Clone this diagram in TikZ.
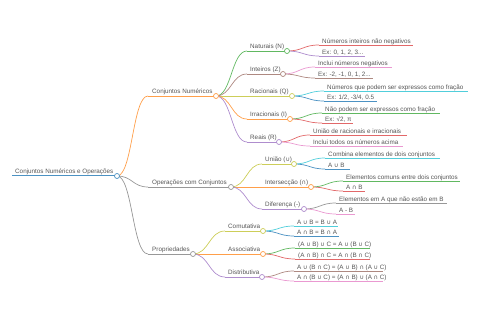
\documentclass[tikz,border=0pt]{standalone}
\usepackage{fontspec}
\setmainfont{Liberation Sans}
\newfontfamily\symf{DejaVu Sans}
\usetikzlibrary{calc}
\definecolor{cblueB}{HTML}{1F77B4}
\definecolor{corangeB}{HTML}{FF7F0E}
\definecolor{cgreenB}{HTML}{2CA02C}
\definecolor{credB}{HTML}{D62728}
\definecolor{cpurpleB}{HTML}{9467BD}
\definecolor{cbrownB}{HTML}{8C564B}
\definecolor{cpinkB}{HTML}{E377C2}
\definecolor{cgrayB}{HTML}{7F7F7F}
\definecolor{coliveB}{HTML}{BCBD22}
\definecolor{ccyanB}{HTML}{17BECF}
\colorlet{cblue}{cblueB!80!white}
\colorlet{corange}{corangeB!75!white}
\colorlet{cgreen}{cgreenB!75!white}
\colorlet{cred}{credB!70!white}
\colorlet{cpurple}{cpurpleB!75!white}
\colorlet{cbrown}{cbrownB!70!white}
\colorlet{cpink}{cpinkB!75!white}
\colorlet{cgray}{cgrayB!80!white}
\colorlet{colive}{coliveB!75!white}
\colorlet{ccyan}{ccyanB!75!white}
\definecolor{txt}{HTML}{555555}
\newcommand\mmcup{{\symf\fontsize{6}{7}\selectfont ∪}}
\newcommand\mmcap{{\symf\fontsize{6}{7}\selectfont ∩}}
\tikzset{
  lbl/.style={anchor=base west, inner sep=0pt, font=\fontsize{6.3}{7}\selectfont, text=txt},
  link/.style={line width=0.7pt},
  dot/.style={circle, draw, fill=white, line width=0.7pt, minimum size=5pt, inner sep=0pt},
}
% link from parent circle to child line start
\newcommand\mmlink[3]{\draw[link,#3] let \p1=(#1), \p2=(#2) in (\p1) .. controls ({0.5*\x1+0.5*\x2},\y1) and ({0.5*\x1+0.5*\x2},\y2) .. (\p2);}
% inner node: name, startx, textx, circlex, y, color, text
\newcommand\mmnode[7]{%
  \coordinate (#1S) at (#2,#5);
  \coordinate (#1) at (#4,#5);
  \node[lbl] (#1T) at (#3,#5-2) {#7};
  \draw[link,#6] (#1S) -- (#1);}
% leaf: name, textx, y, endx, color, text
\newcommand\mmleaf[6]{%
  \coordinate (#1) at (#2-3,#3);
  \coordinate (#1E) at (#4,#3);
  \node[lbl] (#1T) at (#2,#3-1.8) {#6};
  \draw[link,#5] (#1) -- (#1E);}
\begin{document}
\begin{tikzpicture}[x=1pt,y=-1pt]
\useasboundingbox (0,0) rectangle (480,320);
% root
\coordinate (rootS) at (12,176);
\coordinate (root) at (117,176);
\node[lbl] (rootT) at (15,174) {Conjuntos Numéricos e Operações};
\draw[link,cblue,line width=1pt] (rootS) -- (root);
% level 1
\mmnode{cn}{148}{152}{216}{96}{corange}{Conjuntos Numéricos}
\mmnode{op}{148}{152}{231}{187}{cgray}{Operações com Conjuntos}
\mmnode{pr}{148}{152}{193}{254}{cgray}{Propriedades}
\mmlink{root}{cnS}{corange}
\mmlink{root}{opS}{cgray}
\mmlink{root}{prS}{cgray}
% level 2: numeric sets
\mmnode{nat}{247}{250}{287}{51}{cgreen}{Naturais (N)}
\mmnode{int}{247}{250}{283}{74}{cbrown}{Inteiros (Z)}
\mmnode{rac}{247}{250}{292}{96}{colive}{Racionais (Q)}
\mmnode{irr}{247}{250}{290}{119}{corange}{Irracionais (I)}
\mmnode{rea}{247}{250}{279}{142}{cpurple}{Reais (R)}
\mmlink{cn}{natS}{cgreen}
\mmlink{cn}{intS}{cbrown}
\mmlink{cn}{racS}{colive}
\mmlink{cn}{irrS}{corange}
\mmlink{cn}{reaS}{cpurple}
% level 2: operations
\mmnode{uni}{262}{265}{294}{164}{colive}{União (\mmcup)}
\mmnode{ins}{262}{265}{311}{187}{corange}{Intersecção (\mmcap)}
\mmnode{dif}{262}{265}{304}{209}{cpurple}{Diferença (-)}
\mmlink{op}{uniS}{colive}
\mmlink{op}{insS}{corange}
\mmlink{op}{difS}{cpurple}
% level 2: properties
\mmnode{com}{225}{228}{263}{231}{colive}{Comutativa}
\mmnode{ass}{225}{228}{263}{254}{corange}{Associativa}
\mmnode{dis}{225}{228}{262}{277}{cpurple}{Distributiva}
\mmlink{pr}{comS}{colive}
\mmlink{pr}{assS}{corange}
\mmlink{pr}{disS}{cpurple}
% leaves
\mmleaf{n1}{322}{45}{413}{cred}{Números inteiros não negativos}
\mmleaf{n2}{322}{56}{365}{cpurple}{Ex: 0, 1, 2, 3...}
\mmleaf{z1}{318}{67}{392}{cpink}{Inclui números negativos}
\mmleaf{z2}{318}{78}{373}{cbrown}{Ex: -2, -1, 0, 1, 2...}
\mmleaf{q1}{327}{91}{468}{ccyan}{Números que podem ser expressos como fração}
\mmleaf{q2}{327}{101}{377}{cblue}{Ex: 1/2, -3/4, 0.5}
\mmleaf{i1}{325}{113}{440}{cgreen}{Não podem ser expressos como fração}
\mmleaf{i2}{325}{123}{353}{cred}{Ex: √2, π}
\mmleaf{r1}{313}{135}{407}{cred}{União de racionais e irracionais}
\mmleaf{r2}{313}{146}{403}{cpink}{Inclui todos os números acima}
\mmleaf{u1}{328}{158}{440}{ccyan}{Combina elementos de dois conjuntos}
\mmleaf{u2}{328}{169}{350}{cblue}{A \mmcup\ B}
\mmleaf{x1}{346}{181}{460}{cgreen}{Elementos comuns entre dois conjuntos}
\mmleaf{x2}{346}{191}{365}{cred}{A \mmcap\ B}
\mmleaf{d1}{339}{203}{447}{cgray}{Elementos em A que não estão em B}
\mmleaf{d2}{339}{214}{355}{cpink}{A - B}
\mmleaf{c1}{297}{226}{338}{ccyan}{A \mmcup\ B = B \mmcup\ A}
\mmleaf{c2}{297}{236}{339}{cblue}{A \mmcap\ B = B \mmcap\ A}
\mmleaf{a1}{298}{248}{370}{cgreen}{(A \mmcup\ B) \mmcup\ C = A \mmcup\ (B \mmcup\ C)}
\mmleaf{a2}{298}{259}{370}{cred}{(A \mmcap\ B) \mmcap\ C = A \mmcap\ (B \mmcap\ C)}
\mmleaf{s1}{297}{271}{383}{cbrown}{A \mmcup\ (B \mmcap\ C) = (A \mmcup\ B) \mmcap\ (A \mmcup\ C)}
\mmleaf{s2}{297}{281}{383}{cpink}{A \mmcap\ (B \mmcup\ C) = (A \mmcap\ B) \mmcup\ (A \mmcap\ C)}
\mmlink{nat}{n1}{cred}
\mmlink{nat}{n2}{cpurple}
\mmlink{int}{z1}{cpink}
\mmlink{int}{z2}{cbrown}
\mmlink{rac}{q1}{ccyan}
\mmlink{rac}{q2}{cblue}
\mmlink{irr}{i1}{cgreen}
\mmlink{irr}{i2}{cred}
\mmlink{rea}{r1}{cred}
\mmlink{rea}{r2}{cpink}
\mmlink{uni}{u1}{ccyan}
\mmlink{uni}{u2}{cblue}
\mmlink{ins}{x1}{cgreen}
\mmlink{ins}{x2}{cred}
\mmlink{dif}{d1}{cgray}
\mmlink{dif}{d2}{cpink}
\mmlink{com}{c1}{ccyan}
\mmlink{com}{c2}{cblue}
\mmlink{ass}{a1}{cgreen}
\mmlink{ass}{a2}{cred}
\mmlink{dis}{s1}{cbrown}
\mmlink{dis}{s2}{cpink}
% circles on top
\node[dot,draw=cblue] (rootD) at (root) {};
\node[dot,draw=corange] (cnD) at (cn) {};
\node[dot,draw=cgray] (opD) at (op) {};
\node[dot,draw=cgray] (prD) at (pr) {};
\node[dot,draw=cgreen] (natD) at (nat) {};
\node[dot,draw=cbrown] (intD) at (int) {};
\node[dot,draw=colive] (racD) at (rac) {};
\node[dot,draw=corange] (irrD) at (irr) {};
\node[dot,draw=cpurple] (reaD) at (rea) {};
\node[dot,draw=colive] (uniD) at (uni) {};
\node[dot,draw=corange] (insD) at (ins) {};
\node[dot,draw=cpurple] (difD) at (dif) {};
\node[dot,draw=colive] (comD) at (com) {};
\node[dot,draw=corange] (assD) at (ass) {};
\node[dot,draw=cpurple] (disD) at (dis) {};
\end{tikzpicture}
\end{document}
